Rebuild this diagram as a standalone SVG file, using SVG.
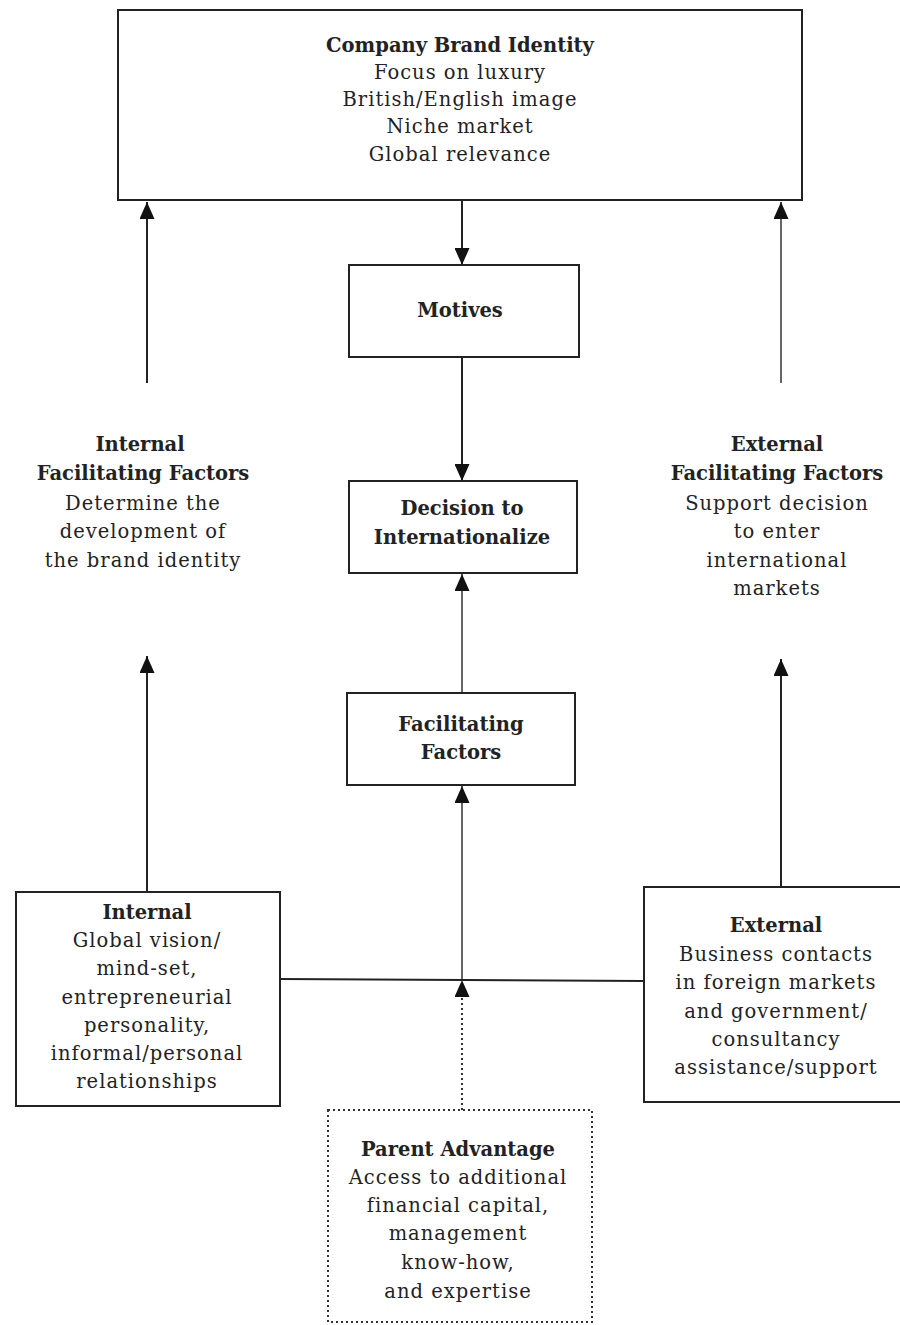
<svg xmlns="http://www.w3.org/2000/svg" width="900" height="1325" viewBox="0 0 900 1325">
<style>
.box{fill:#fff;stroke:#222;stroke-width:2}
.dot{fill:#fff;stroke:#333;stroke-width:2;stroke-dasharray:2 3}
.t{font-family:"DejaVu Serif","Liberation Serif",serif;font-size:19.5px;fill:#222;text-anchor:middle;letter-spacing:1px}
.b{font-weight:bold;letter-spacing:0px}
.c{fill:none;stroke:#222;stroke-width:2}
.g{stroke:#666}
.d{stroke-dasharray:2 3;stroke:#333}
</style>
<defs>
<marker id="ah" viewBox="0 0 17 15" refX="17" refY="7.5" markerWidth="17" markerHeight="15" orient="auto" markerUnits="userSpaceOnUse">
<path d="M0,0 L17,7.5 L0,15 z" fill="#111"/>
</marker>
</defs>
<rect width="900" height="1325" fill="#fff"/>
<g id="connectors">
<line class="c" x1="462" y1="200" x2="462" y2="265" marker-end="url(#ah)"/>
<line class="c" x1="462" y1="357" x2="462" y2="481" marker-end="url(#ah)"/>
<line class="c g" x1="462" y1="693" x2="462" y2="574" marker-end="url(#ah)"/>
<line class="c g" x1="462" y1="980" x2="462" y2="786" marker-end="url(#ah)"/>
<line class="c" x1="280" y1="979" x2="644" y2="981"/>
<line class="c d" x1="462" y1="1110" x2="462" y2="980" marker-end="url(#ah)"/>
<line class="c" x1="147" y1="892" x2="147" y2="656" marker-end="url(#ah)"/>
<line class="c" x1="147" y1="383" x2="147" y2="202" marker-end="url(#ah)"/>
<line class="c" x1="781" y1="887" x2="781" y2="659" marker-end="url(#ah)"/>
<line class="c g" x1="781" y1="383" x2="781" y2="202" marker-end="url(#ah)"/>
</g>
<g id="brand">
<rect class="box" x="118" y="10" width="684" height="190"/>
<text class="t b" x="460" y="52">Company Brand Identity</text>
<text class="t" x="460" y="79">Focus on luxury</text>
<text class="t" x="460" y="106">British/English image</text>
<text class="t" x="460" y="133">Niche market</text>
<text class="t" x="460" y="161">Global relevance</text>
</g>
<g id="motives">
<rect class="box" x="349" y="265" width="230" height="92"/>
<text class="t b" x="460" y="317">Motives</text>
</g>
<g id="decision">
<rect class="box" x="349" y="481" width="228" height="92"/>
<text class="t b" x="462" y="515">Decision to</text>
<text class="t b" x="462" y="544">Internationalize</text>
</g>
<g id="facilitating">
<rect class="box" x="347" y="693" width="228" height="92"/>
<text class="t b" x="461" y="731">Facilitating</text>
<text class="t b" x="461" y="759">Factors</text>
</g>
<g id="internal-ff">
<text class="t b" x="140" y="451">Internal</text>
<text class="t b" x="143" y="480">Facilitating Factors</text>
<text class="t" x="143" y="510">Determine the</text>
<text class="t" x="143" y="538">development of</text>
<text class="t" x="143" y="567">the brand identity</text>
</g>
<g id="external-ff">
<text class="t b" x="777" y="451">External</text>
<text class="t b" x="777" y="480">Facilitating Factors</text>
<text class="t" x="777" y="510">Support decision</text>
<text class="t" x="777" y="538">to enter</text>
<text class="t" x="777" y="567">international</text>
<text class="t" x="777" y="595">markets</text>
</g>
<g id="internal">
<rect class="box" x="16" y="892" width="264" height="214"/>
<text class="t b" x="147" y="919">Internal</text>
<text class="t" x="147" y="947">Global vision/</text>
<text class="t" x="147" y="975">mind-set,</text>
<text class="t" x="147" y="1004">entrepreneurial</text>
<text class="t" x="147" y="1032">personality,</text>
<text class="t" x="147" y="1060">informal/personal</text>
<text class="t" x="147" y="1088">relationships</text>
</g>
<g id="external">
<rect class="box" x="644" y="887" width="262" height="215"/>
<text class="t b" x="776" y="932">External</text>
<text class="t" x="776" y="961">Business contacts</text>
<text class="t" x="776" y="989">in foreign markets</text>
<text class="t" x="776" y="1018">and government/</text>
<text class="t" x="776" y="1046">consultancy</text>
<text class="t" x="776" y="1074">assistance/support</text>
</g>
<g id="parent">
<rect class="dot" x="328" y="1110" width="264" height="212"/>
<text class="t b" x="458" y="1156">Parent Advantage</text>
<text class="t" x="458" y="1184">Access to additional</text>
<text class="t" x="458" y="1212">financial capital,</text>
<text class="t" x="458" y="1240">management</text>
<text class="t" x="458" y="1269">know-how,</text>
<text class="t" x="458" y="1298">and expertise</text>
</g>
</svg>
